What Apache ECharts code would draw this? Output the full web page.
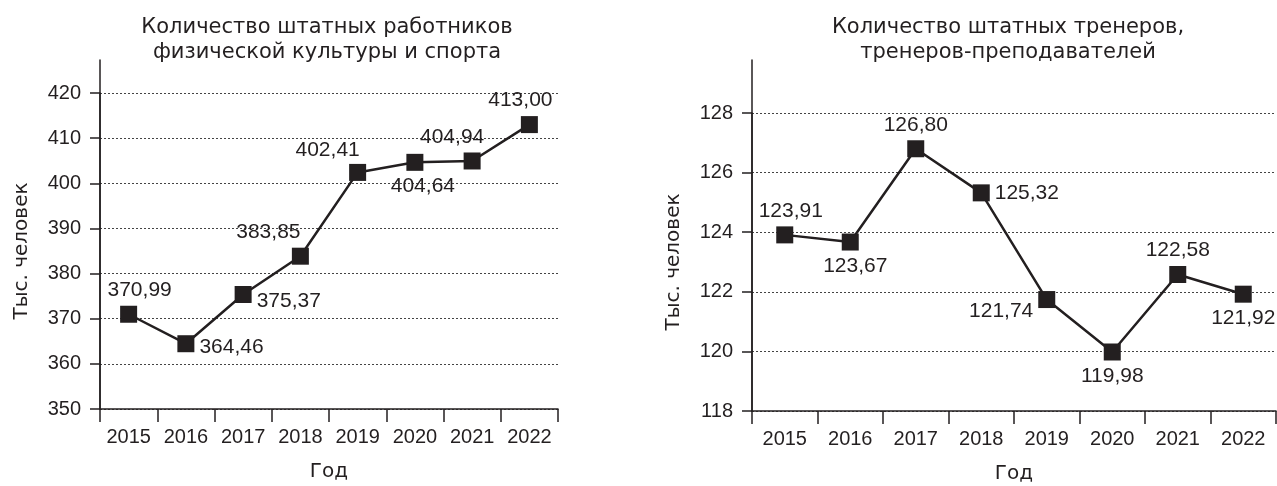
<!DOCTYPE html>
<html>
<head>
<meta charset="utf-8">
<script src="https://cdn.jsdelivr.net/npm/echarts@6/dist/echarts.min.js"></script>
<style>
    html, body { margin: 0; padding: 0; background: #fff; }
    #container { width: 1277px; height: 486px; }
</style>
</head>
<body>
<div id="container"></div>
<script>
// данные
var years = ['2015', '2016', '2017', '2018', '2019', '2020', '2021', '2022'];
var staffValues = [370.99, 364.46, 375.37, 383.85, 402.41, 404.64, 404.94, 413.00];
var coachValues = [123.91, 123.67, 126.80, 125.32, 121.74, 119.98, 122.58, 121.92];
var staffTicks = [350, 360, 370, 380, 390, 400, 410, 420];
var coachTicks = [118, 120, 122, 124, 126, 128];

// где стоят подписи у точек
var staffLabelPos = ['top', 'right', 'right', 'top', 'top', 'bottom', 'top', 'top'];
var staffLabelOffset = [[11, 0], [0, 3], [0, 7], [-32, 0], [-30, 2], [8, 0], [-20, 0], [-9, 0]];
var coachLabelPos = ['top', 'bottom', 'top', 'right', 'left', 'bottom', 'top', 'bottom'];
var coachLabelOffset = [[6, 0], [5, 0], [0, 0], [0, 0], [0, 12], [0, 0], [0, 0], [0, 0]];

var font = 'Liberation Sans';      // цифры
var wideFont = 'DejaVu Sans';      // заголовки и названия осей
var ink = '#231f20';

function fmt(v) {
    return v.toFixed(2).replace('.', ',');
}

function buildData(values, pos, offset) {
    var out = [];
    for (var i = 0; i < values.length; i++) {
        out.push({
            value: values[i],
            label: { position: pos[i], offset: offset[i] }
        });
    }
    return out;
}

function valueAxis(gridIndex, ticks) {
    return {
        type: 'value',
        gridIndex: gridIndex,
        min: ticks[0],
        max: ticks[ticks.length - 1],
        interval: ticks[1] - ticks[0],
        name: 'Тыс. человек',
        nameLocation: 'middle',
        nameGap: 68,
        nameTextStyle: { fontFamily: wideFont, fontSize: 20, color: ink },
        axisLine: { show: true, lineStyle: { color: ink, width: 1.5 } },
        axisTick: { show: true, length: 10, lineStyle: { color: ink, width: 1.5 } },
        axisLabel: { margin: 19, fontFamily: font, fontSize: 20, color: ink },
        splitLine: { show: true, lineStyle: { color: '#444', width: 1, type: [2, 2] } }
    };
}

function categoryAxis(gridIndex) {
    return {
        type: 'category',
        gridIndex: gridIndex,
        data: years,
        name: 'Год',
        nameLocation: 'middle',
        nameGap: 53,
        nameTextStyle: { fontFamily: wideFont, fontSize: 20, color: ink },
        axisLine: { show: true, lineStyle: { color: ink, width: 1.5 } },
        axisTick: { show: true, length: 13, lineStyle: { color: ink, width: 1.5 } },
        axisLabel: { margin: 18, fontFamily: font, fontSize: 20, color: ink, interval: 0 }
    };
}

// рамка: только продлённая вверх ось Y
function frameY(gridIndex) {
    return {
        type: 'value', gridIndex: gridIndex, min: 0, max: 1,
        axisLine: { show: true, lineStyle: { color: ink, width: 1.5 } },
        axisTick: { show: false }, axisLabel: { show: false }, splitLine: { show: false }
    };
}
function frameX(gridIndex) {
    return {
        type: 'category', gridIndex: gridIndex, data: years, show: false
    };
}

function lineSeries(xi, yi, values, pos, offset) {
    return {
        type: 'line',
        xAxisIndex: xi,
        yAxisIndex: yi,
        data: buildData(values, pos, offset),
        symbol: 'rect',
        symbolSize: 17,
        lineStyle: { color: ink, width: 2.5 },
        itemStyle: { color: ink },
        label: {
            show: true,
            distance: 5,
            fontFamily: font,
            fontSize: 21,
            color: ink,
            formatter: function (p) { return fmt(p.value); }
        },
        animation: false,
        z: 5
    };
}

var myChart = echarts.init(document.getElementById('container'));
var option = {
    backgroundColor: '#fff',
    animation: false,
    title: [
        {
            text: 'Количество штатных работников\nфизической культуры и спорта',
            left: 327, top: 15, textAlign: 'center', padding: 0,
            textStyle: { fontFamily: wideFont, fontSize: 21, fontWeight: 'normal', color: ink, lineHeight: 25 }
        },
        {
            text: 'Количество штатных тренеров,\nтренеров-преподавателей',
            left: 1008, top: 15, textAlign: 'center', padding: 0,
            textStyle: { fontFamily: wideFont, fontSize: 21, fontWeight: 'normal', color: ink, lineHeight: 25 }
        }
    ],
    grid: [
        { left: 100, top: 93, width: 458, height: 316, outerBoundsMode: 'none' },
        { left: 752, top: 113, width: 524, height: 298, outerBoundsMode: 'none' },
        { left: 100, top: 60, width: 458, height: 349, outerBoundsMode: 'none' },
        { left: 752, top: 60, width: 524, height: 351, outerBoundsMode: 'none' }
    ],
    xAxis: [categoryAxis(0), categoryAxis(1), frameX(2), frameX(3)],
    yAxis: [valueAxis(0, staffTicks), valueAxis(1, coachTicks), frameY(2), frameY(3)],
    series: [
        lineSeries(0, 0, staffValues, staffLabelPos, staffLabelOffset),
        lineSeries(1, 1, coachValues, coachLabelPos, coachLabelOffset)
    ]
};
myChart.setOption(option);
</script>
</body>
</html>
